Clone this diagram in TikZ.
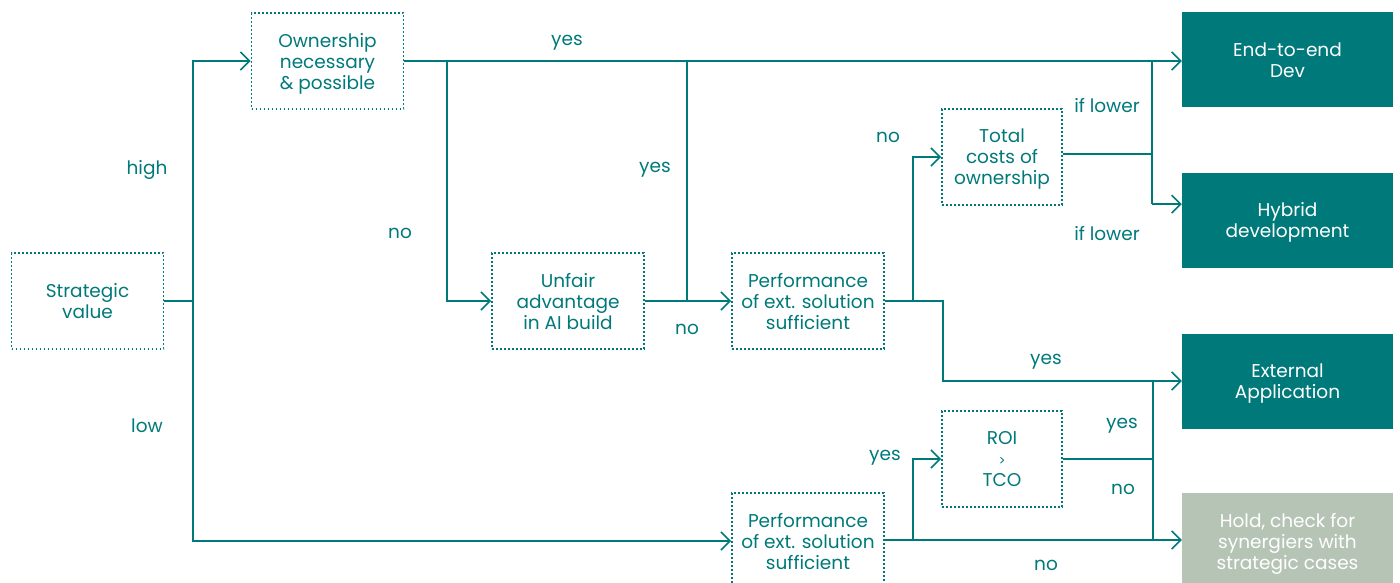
\documentclass[tikz,border=0pt]{standalone}
\usepackage{fontspec}
\setmainfont{Poppins}
\usetikzlibrary{arrows.meta,calc}
\definecolor{teal}{HTML}{00797A}
\definecolor{holdgreen}{HTML}{B6C4B5}
\begin{document}
\begin{tikzpicture}[x=1pt,y=-1pt,
  every node/.style={font=\fontsize{18.5}{21}\selectfont, text=teal, align=center, inner sep=0pt},
  boxtext/.style={text depth=0pt},
  decision/.style={boxtext, draw=teal, line width=1.8pt, dash pattern=on 1.7pt off 2.3pt,
    minimum width=#1, minimum height=96pt},
  decision/.default=152pt,
  outcome/.style={boxtext, fill=teal, text=white, minimum width=211pt, minimum height=95pt},
  holdbox/.style={boxtext, fill=holdgreen, text=white, minimum width=211pt, minimum height=96pt},
  link/.style={draw=teal, line width=1.6pt},
  arr/.style={link, -{Straight Barb[length=9pt,width=18pt,line width=1.6pt]}},
  lbl/.style={text=teal, yshift=-2.5pt}]
\useasboundingbox (0,0) rectangle (1400,583);
\clip (0,0) rectangle (1400,583);

% decision boxes
\node[decision] (sv)    at (87.5,301)  {Strategic\\value};
\node[decision] (own)   at (327.5,61)  {Ownership\\necessary\\\& possible};
\node[decision] (unf)   at (568,301)   {Unfair\\advantage\\in AI build};
\node[decision] (perf1) at (808,301)   {Performance\\of ext. solution\\sufficient};
\node[decision=120pt] (tco) at (1002,157) {Total\\costs of\\ownership};
\node[decision=120pt] (roi) at (1002,459) {ROI\\{\fontsize{13}{21}\selectfont >}\\TCO};
\node[decision] (perf2) at (808,541)   {Performance\\of ext. solution\\sufficient};

% outcomes
\node[outcome] (e2e) at (1287.5,60)  {End-to-end\\Dev};
\node[outcome] (hyb) at (1287.5,220) {Hybrid\\development};
\node[outcome] (ext) at (1287.5,381) {External\\Application};
\node[holdbox] (hold) at (1287.5,541) {Hold, check for\\synergiers with\\strategic cases};

% junction points
\coordinate (j1) at (193,301);
\coordinate (j2) at (447,61);
\coordinate (j3) at (687,301);
\coordinate (j4) at (913,301);
\coordinate (j5) at (943,301);
\coordinate (j6) at (1152,154);
\coordinate (j7) at (913,540);
\coordinate (j8) at (1153,459);
\coordinate (hin) at ($(hyb.north west)!0.333!(hyb.south west)$);

% strategic value split
\draw[link] (sv.east) -- (j1);
\draw[arr] (j1) |- (own.west);
\draw[arr] (j1) |- (perf2.west);

% ownership branch
\draw[arr] (own.east) -- (own.east -| e2e.west);
\draw[arr] (j2) |- (unf.west);

% unfair advantage
\draw[arr] (unf.east) -- (perf1.west);
\draw[link] (j3) -- (j3 |- own.east);

% performance of external solution (high)
\draw[arr] (perf1.east) -- (j5) |- (ext.west);
\draw[arr] (j4) |- (tco.west);

% total cost of ownership
\draw[link] (tco.east |- j6) -- (j6);
\draw[link] (j6 |- e2e.west) -- (j6 |- hin);
\draw[arr] (j6 |- hin) -- (hin);

% performance of external solution (low)
\draw[arr] (perf2.east |- j7) -- (j7 -| hold.west);
\draw[arr] (j7) |- (roi.west);

% return on investment
\draw[link] (roi.east) -- (j8);
\draw[link] (j8 |- ext.west) -- (j8 |- j7);

% branch labels
\node[lbl] (l1)  at (567,40)   {yes};
\node[lbl] (l2)  at (147,167)  {high};
\node[lbl] (l3)  at (400,231)  {no};
\node[lbl] (l4)  at (655,167)  {yes};
\node[lbl] (l5)  at (687,327)  {no};
\node[lbl] (l6)  at (888,135)  {no};
\node[lbl] (l7)  at (1107,103) {if lower};
\node[lbl] (l8)  at (1107,231) {if lower};
\node[lbl] (l9)  at (1046,359) {yes};
\node[lbl] (l10) at (885,455)  {yes};
\node[lbl] (l11) at (1122,423) {yes};
\node[lbl] (l12) at (1123,487) {no};
\node[lbl] (l13) at (147,423)  {low};
\node[lbl] (l14) at (1046,563) {no};
\end{tikzpicture}
\end{document}
